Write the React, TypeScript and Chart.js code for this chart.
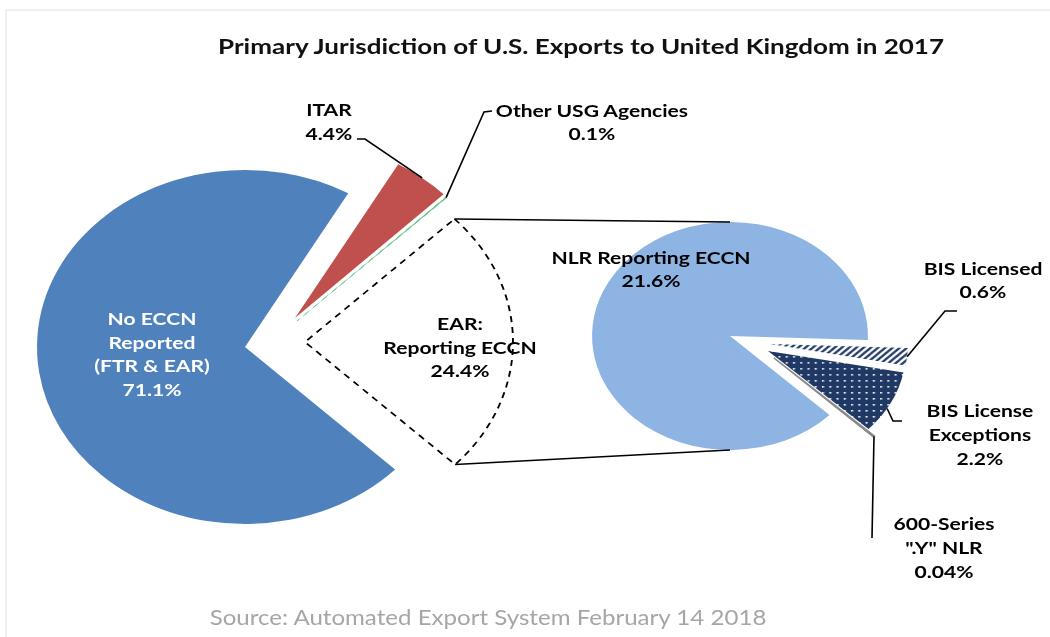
import React, { useEffect, useRef } from "react";
import { Chart, registerables } from "chart.js";
Chart.register(...registerables);

// ---------- data ----------
const primaryCategories = ["No ECCN Reported (FTR & EAR)", "ITAR", "Other USG Agencies", "EAR: Reporting ECCN"];
const primaryValues = [71.1, 4.4, 0.1, 24.4];
const earCategories = ["BIS Licensed", "BIS License Exceptions", "600-Series \".Y\" NLR", "NLR Reporting ECCN"];
const earValues = [0.6, 2.2, 0.04, 21.6];

const primaryLabelLines = [["No ECCN", "Reported", "(FTR & EAR)"], ["ITAR"], ["Other USG Agencies"], ["EAR:", "Reporting ECCN"]];
const earLabelLines = [["BIS Licensed"], ["BIS License", "Exceptions"], ["600-Series", "\".Y\" NLR"], ["NLR Reporting ECCN"]];

const titleText = "Primary Jurisdiction of U.S. Exports to United Kingdom in 2017";
const sourceText = "Source: Automated Export System February 14 2018";

// ---------- layout / style ----------
const W = 1050;
const H = 637;
const NAVY = "#1F3864";
const LEFT_SX = 1.175;
const RIGHT_SX = 1.21;
const leftShift: [number, number][] = [[0, 0], [50, -29], [52, -26], [60, -5]];
const rightShift: [number, number][] = [[40, 8], [38, 15], [44, 22], [0, 0]];

const FONT = "Lato, 'Open Sans', sans-serif";

function makeHatch(): CanvasPattern | string {
  const c = document.createElement("canvas");
  c.width = 6; c.height = 6;
  const g = c.getContext("2d");
  if (!g) return NAVY;
  g.fillStyle = "#ffffff"; g.fillRect(0, 0, 6, 6);
  g.strokeStyle = NAVY; g.lineWidth = 2;
  g.beginPath();
  g.moveTo(-1, 7); g.lineTo(7, -1);
  g.moveTo(-4, 4); g.lineTo(4, -4);
  g.moveTo(2, 10); g.lineTo(10, 2);
  g.stroke();
  return g.createPattern(c, "repeat") || NAVY;
}

function makeDots(): CanvasPattern | string {
  const c = document.createElement("canvas");
  c.width = 6; c.height = 6;
  const g = c.getContext("2d");
  if (!g) return NAVY;
  g.fillStyle = NAVY; g.fillRect(0, 0, 6, 6);
  g.fillStyle = "#ffffff"; g.fillRect(2, 2, 1.6, 1.6);
  return g.createPattern(c, "repeat") || NAVY;
}

function stretchPlugin(sx: number, shifts: [number, number][]) {
  return {
    id: "stretchExplode",
    beforeDatasetsDraw(chart: any) {
      const area = chart.chartArea;
      const cx = (area.left + area.right) / 2;
      const cy = (area.top + area.bottom) / 2;
      const arcs = chart.getDatasetMeta(0).data as any[];
      arcs.forEach((a, i) => {
        a.x = cx + shifts[i][0] / sx;
        a.y = cy + shifts[i][1];
      });
      const ctx = chart.ctx;
      ctx.save();
      ctx.translate(cx, 0);
      ctx.scale(sx, 1);
      ctx.translate(-cx, 0);
    },
    afterDatasetsDraw(chart: any) {
      chart.ctx.restore();
    },
  };
}

function arcPoint(chart: any, sx: number, i: number, angleFrac: number, rFrac: number): [number, number] {
  const a = chart.getDatasetMeta(0).data[i] as any;
  const area = chart.chartArea;
  const cx = (area.left + area.right) / 2;
  const ang = a.startAngle + (a.endAngle - a.startAngle) * angleFrac;
  const r = a.outerRadius * rFrac;
  return [cx + sx * (a.x - cx + r * Math.cos(ang)), a.y + r * Math.sin(ang)];
}

type Leader = { i: number; path: [number, number][]; frac: number; r: number };

function drawLeaders(chart: any, sx: number, leaders: Leader[]) {
  const ctx = chart.ctx;
  ctx.save();
  ctx.strokeStyle = "#000";
  ctx.lineWidth = 1.6;
  ctx.setLineDash([]);
  leaders.forEach((l) => {
    const end = arcPoint(chart, sx, l.i, l.frac, l.r);
    ctx.beginPath();
    ctx.moveTo(l.path[0][0], l.path[0][1]);
    for (let k = 1; k < l.path.length; k++) ctx.lineTo(l.path[k][0], l.path[k][1]);
    ctx.lineTo(end[0], end[1]);
    ctx.stroke();
  });
  ctx.restore();
}

const leftLeaders: Leader[] = [
  { i: 1, path: [[357, 139], [365, 139]], frac: 0.5, r: 1 },
  { i: 2, path: [[492, 111], [484, 112]], frac: 0.5, r: 1 },
];
const rightLeaders: Leader[] = [
  { i: 0, path: [[957, 311], [945, 311]], frac: 0.5, r: 1 },
  { i: 1, path: [[902, 421], [893, 421]], frac: 0.6, r: 1 },
  { i: 2, path: [[872, 538]], frac: 0.5, r: 1 },
];

function Label(props: { x: number; y: number; lines: string[]; color?: string; size?: number; weight?: number; lh?: number; stretch?: number }) {
  const { x, y, lines, color = "#000", size = 17, weight = 700, lh = 23.5, stretch = 1.24 } = props;
  return (
    <div
      style={{
        position: "absolute",
        left: x,
        top: y,
        transform: `translate(-50%, -50%) scaleX(${stretch})`,
        textAlign: "center",
        whiteSpace: "pre",
        fontFamily: FONT,
        fontWeight: weight,
        fontSize: size,
        lineHeight: `${lh}px`,
        color,
      }}
    >
      {lines.map((t, k) => (
        <div key={k}>{t}</div>
      ))}
    </div>
  );
}

export default function App() {
  const leftRef = useRef<HTMLCanvasElement | null>(null);
  const rightRef = useRef<HTMLCanvasElement | null>(null);

  useEffect(() => {
    if (!leftRef.current || !rightRef.current) return;
    const hatch = makeHatch();
    const dots = makeDots();

    const leftCenter = [245, 347];
    const rightCenter = [730, 336];

    const left = new Chart(leftRef.current, {
      type: "pie",
      data: {
        labels: primaryCategories,
        datasets: [
          {
            data: primaryValues,
            backgroundColor: ["#4F81BD", "#C0504D", "#5FC07F", "rgba(0,0,0,0)"],
            borderColor: ["#4F81BD", "#C0504D", "#5FC07F", "#000000"],
            borderWidth: [0, 0, 0.6, 1.6],
            borderDash: [6, 5],
            borderJoinStyle: "miter",
            clip: false,
          } as any,
        ],
      },
      options: {
        responsive: false,
        animation: false,
        devicePixelRatio: 1,
        events: [],
        rotation: 133.8,
        radius: 177,
        layout: { padding: { left: 0, right: W - 2 * leftCenter[0], top: 2 * leftCenter[1] - H, bottom: 0 } },
        plugins: { legend: { display: false }, tooltip: { enabled: false }, title: { display: false } },
      } as any,
      plugins: [
        stretchPlugin(LEFT_SX, leftShift),
        { id: "leftLeaders", afterDraw: (c: any) => drawLeaders(c, LEFT_SX, leftLeaders) },
      ],
    });

    const right = new Chart(rightRef.current, {
      type: "pie",
      data: {
        labels: earCategories,
        datasets: [
          {
            data: earValues,
            backgroundColor: [hatch, dots, NAVY, "#8DB4E2"],
            borderColor: ["#ffffff", "#ffffff", "#8a8a8a", "#ffffff"],
            borderWidth: [0, 0, 1.4, 0],
            borderJoinStyle: "miter",
            clip: false,
          } as any,
        ],
      },
      options: {
        responsive: false,
        animation: false,
        devicePixelRatio: 1,
        events: [],
        rotation: 92,
        radius: 114,
        layout: { padding: { left: 2 * rightCenter[0] - W, right: 0, top: 2 * rightCenter[1] - H, bottom: 0 } },
        plugins: { legend: { display: false }, tooltip: { enabled: false }, title: { display: false } },
      } as any,
      plugins: [
        stretchPlugin(RIGHT_SX, rightShift),
        {
          id: "rightLeadersAndConnectors",
          afterDraw: (c: any) => {
            drawLeaders(c, RIGHT_SX, rightLeaders);
            // connectors from the EAR slice to the breakdown pie
            const earTop = arcPoint(left, LEFT_SX, 3, 0, 1);
            const earBottom = arcPoint(left, LEFT_SX, 3, 1, 1);
            const area = c.chartArea;
            const cx = (area.left + area.right) / 2;
            const cy = (area.top + area.bottom) / 2;
            const nlr = c.getDatasetMeta(0).data[3] as any;
            const R = nlr.outerRadius;
            const ctx = c.ctx;
            ctx.save();
            ctx.strokeStyle = "#000";
            ctx.lineWidth = 1.6;
            ctx.beginPath();
            ctx.moveTo(earTop[0], earTop[1]);
            ctx.lineTo(cx, cy - R);
            ctx.moveTo(earBottom[0], earBottom[1]);
            ctx.lineTo(cx, cy + R);
            ctx.stroke();
            ctx.restore();
          },
        },
      ],
    });
    right.draw();

    return () => {
      right.destroy();
      left.destroy();
    };
  }, []);

  const pct = (v: number) => `${v}%`;

  return (
    <div style={{ position: "fixed", left: 0, top: 0, width: W, height: H, overflow: "hidden", background: "#ffffff" }}>
      <div style={{ position: "absolute", left: 5, top: 9, width: W + 20, height: H + 20, border: "2px solid #f0f0f0", boxSizing: "border-box" }} />
      <canvas ref={leftRef} width={W} height={H} style={{ position: "absolute", left: 0, top: 0, width: W, height: H }} />
      <canvas ref={rightRef} width={W} height={H} style={{ position: "absolute", left: 0, top: 0, width: W, height: H }} />

      <Label x={581} y={47} lines={[titleText]} size={20} color="#111" stretch={1.3} />
      <Label x={488} y={617} lines={[sourceText]} size={22} weight={400} color="#a6a6a6" stretch={1.095} />

      <Label x={152} y={354} lines={[...primaryLabelLines[0], pct(primaryValues[0])]} color="#ffffff" />
      <Label x={329} y={121} lines={[...primaryLabelLines[1], pct(primaryValues[1])]} />
      <Label x={592} y={121.5} lines={[...primaryLabelLines[2], pct(primaryValues[2])]} />
      <Label x={460} y={347} lines={[...primaryLabelLines[3], pct(primaryValues[3])]} />

      <Label x={983} y={280} lines={[...earLabelLines[0], pct(earValues[0])]} lh={22.5} />
      <Label x={980} y={435} lines={[...earLabelLines[1], pct(earValues[1])]} lh={24} />
      <Label x={944} y={548} lines={[...earLabelLines[2], pct(earValues[2])]} lh={24} />
      <Label x={651} y={268.5} lines={[...earLabelLines[3], pct(earValues[3])]} lh={23} />
    </div>
  );
}
